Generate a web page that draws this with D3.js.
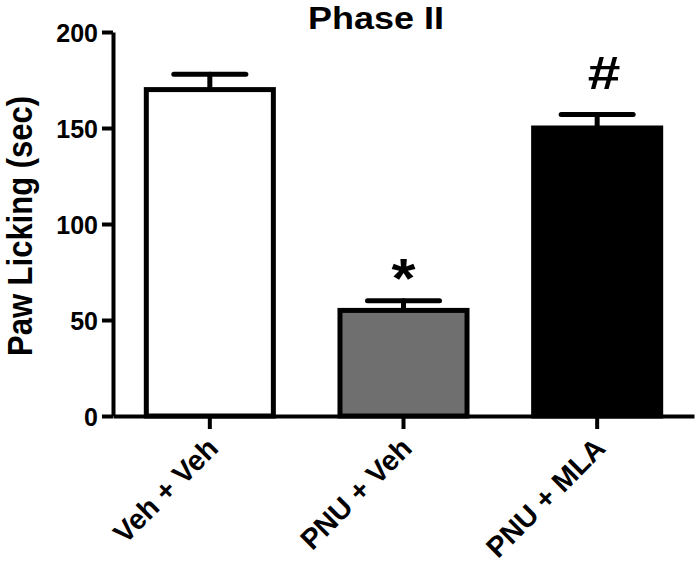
<!DOCTYPE html>
<html lang="en">
  <head>
    <meta charset="UTF-8" />
    <title>Phase II</title>
    <script src="https://d3js.org/d3.v7.min.js"></script>
    <style>
      body { margin: 0; background: #fff; }
      text { font-family: "Liberation Sans", Arial, sans-serif; font-weight: bold; }
    </style>
  </head>
  <body>

<svg width="697" height="565"></svg>

<script>

// data
var groups = ["Veh + Veh", "PNU + Veh", "PNU + MLA"];
var means = [170, 55, 150];
var sems = [8, 5, 7];
var marks = ["", "*", "#"];
var fills = ["#ffffff", "#6f6f6f", "#000000"];
var yTicks = [0, 50, 100, 150, 200];

var svg = d3.select("svg");

var x = d3.scaleBand().domain(groups).range([113, 694])
          .paddingInner(0.344).paddingOuter(0.172);
var y = d3.scaleLinear().domain([0, 200]).range([416, 32]);

// title
svg.append("text")
   .attr("x", 308).attr("y", 29)
   .attr("font-size", "31px")
   .attr("textLength", 136).attr("lengthAdjust", "spacingAndGlyphs")
   .text("Phase II");

// y label
svg.append("text")
   .attr("transform", "translate(32,226) scale(1.15,1) rotate(-90)")
   .attr("text-anchor", "middle")
   .attr("font-size", "31px")
   .text("Paw Licking (sec)");

// bars
var data = groups.map(function(g, i) {
  return { g: g, m: means[i], e: sems[i], mark: marks[i], fill: fills[i] };
});

// error bars first so the bar outline sits on top
var eb = svg.append("g").attr("stroke", "#000").attr("stroke-width", 5).attr("stroke-linecap", "round");
eb.selectAll(".stem").data(data).enter().append("line")
  .attr("x1", function(d) { return x(d.g) + x.bandwidth() / 2; })
  .attr("x2", function(d) { return x(d.g) + x.bandwidth() / 2; })
  .attr("y1", function(d) { return y(d.m); })
  .attr("y2", function(d) { return y(d.m + d.e); });
eb.selectAll(".cap").data(data).enter().append("line")
  .attr("x1", function(d) { return x(d.g) + x.bandwidth() / 2 - 36; })
  .attr("x2", function(d) { return x(d.g) + x.bandwidth() / 2 + 36; })
  .attr("y1", function(d) { return y(d.m + d.e); })
  .attr("y2", function(d) { return y(d.m + d.e); });

svg.selectAll(".bar").data(data).enter().append("rect")
   .attr("class", "bar")
   .attr("x", function(d) { return x(d.g); })
   .attr("y", function(d) { return y(d.m); })
   .attr("width", x.bandwidth())
   .attr("height", function(d) { return y(0) - y(d.m); })
   .attr("fill", function(d) { return d.fill; })
   .attr("stroke", "#000")
   .attr("stroke-width", 5);

// significance marks
svg.selectAll(".mark").data(data).enter().append("text")
   .attr("transform", function(d) {
     var cx = x(d.g) + x.bandwidth() / 2;
     return d.mark == "#"
       ? "translate(" + (cx + 7) + "," + (y(d.m + d.e) - 26) + ") scale(1.25,1)"
       : "translate(" + cx + "," + (y(d.m + d.e) - 4) + ") scale(1.1,1)";
   })
   .attr("text-anchor", "middle")
   .attr("font-weight", "normal")
   .attr("font-size", function(d) { return d.mark == "#" ? "47px" : "56px"; })
   .text(function(d) { return d.mark; });

// axes
var yAxis = svg.append("g")
   .attr("transform", "translate(113,0)")
   .call(d3.axisLeft(y).tickValues(yTicks).tickSize(11).tickSizeOuter(0).tickPadding(4));
yAxis.selectAll("text").attr("font-size", "25px").attr("font-family", null).attr("dy", "0.36em");

var xAxis = svg.append("g")
   .attr("transform", "translate(0,416)")
   .call(d3.axisBottom(x).tickSize(13).tickSizeOuter(0));
xAxis.selectAll("text").remove();

svg.selectAll(".domain, .tick line").attr("stroke", "#000").attr("stroke-width", 4);
svg.selectAll(".tick text").attr("fill", "#000");

svg.append("g").selectAll("text").data(groups).enter().append("text")
   .attr("transform", function(d) {
     return "translate(" + (x(d) + x.bandwidth() / 2 + 10) + ",450) rotate(-45)";
   })
   .attr("text-anchor", "end")
   .attr("font-size", "28.5px")
   .text(function(d) { return d; });

</script>

  </body>
</html>
